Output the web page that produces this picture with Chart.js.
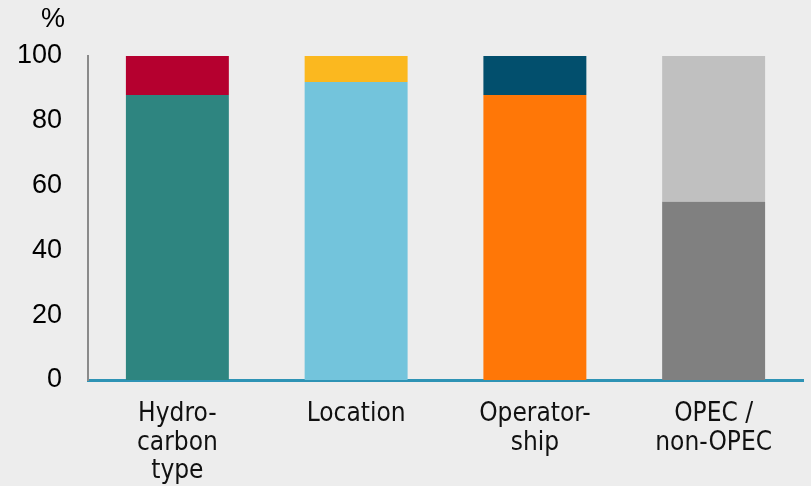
<!DOCTYPE html>
<html><head><meta charset="utf-8">
<script src="https://cdn.jsdelivr.net/npm/chart.js@4/dist/chart.umd.min.js"></script>
<style>html,body{margin:0;padding:0;background:#EDEDED;}#wrap{width:811px;height:486px;}</style>
</head><body><div id="wrap"><canvas id="c" width="811" height="486"></canvas></div>
<script>
const categories = [["Hydro-","carbon","type"],["Location"],["Operator-","ship"],["OPEC /","non-OPEC"]];
const bottomValues = [88, 92, 88, 55];
const topValues = [12, 8, 12, 45];
const bottomColors = ["#2E8580","#73C4DC","#FF7707","#808080"];
const topColors = ["#B5002F","#FBB81F","#024F6D","#C0C0C0"];
const yTicks = [0,20,40,60,80,100];

const bgPlugin = {id:'bg', beforeDraw(chart){const c=chart.ctx;c.save();c.fillStyle='#EDEDED';c.fillRect(0,0,chart.width,chart.height);c.restore();}};
const unitPlugin = {id:'unit', afterDraw(chart){const c=chart.ctx;c.save();c.fillStyle='#000';c.font='27px "Liberation Sans", Arial, sans-serif';c.textAlign='center';c.textBaseline='alphabetic';c.fillText('%',53,27);c.restore();}};

new Chart(document.getElementById('c'),{
  type:'bar',
  data:{labels:categories,datasets:[
    {data:bottomValues,backgroundColor:bottomColors,borderWidth:0,barPercentage:0.576,categoryPercentage:1},
    {data:topValues,backgroundColor:topColors,borderWidth:0,barPercentage:0.576,categoryPercentage:1}
  ]},
  plugins:[bgPlugin,unitPlugin],
  options:{
    responsive:false,animation:false,
    layout:{padding:{top:56,right:8,left:0,bottom:0}},
    plugins:{legend:{display:false},tooltip:{enabled:false}},
    scales:{
      x:{stacked:true,
        grid:{display:false,drawTicks:false},
        border:{display:true,color:'#2E93B5',width:3},
        ticks:{color:'#111',font:{family:'"DejaVu Sans Condensed", "DejaVu Sans", sans-serif',size:26,lineHeight:'28.5px'},padding:20,maxRotation:0,autoSkip:false},
        afterFit(s){s.height=106;}
      },
      y:{stacked:true,min:0,max:100,
        afterBuildTicks(s){s.ticks=yTicks.map(v=>({value:v}));},
        grid:{display:false,drawTicks:false},
        border:{display:true,color:'#8A8A8A',width:2},
        ticks:{color:'#000',font:{family:'"Liberation Sans", Arial, sans-serif',size:27},padding:26},
        afterFit(s){s.width=88;}
      }
    }
  }
});
</script></body></html>
